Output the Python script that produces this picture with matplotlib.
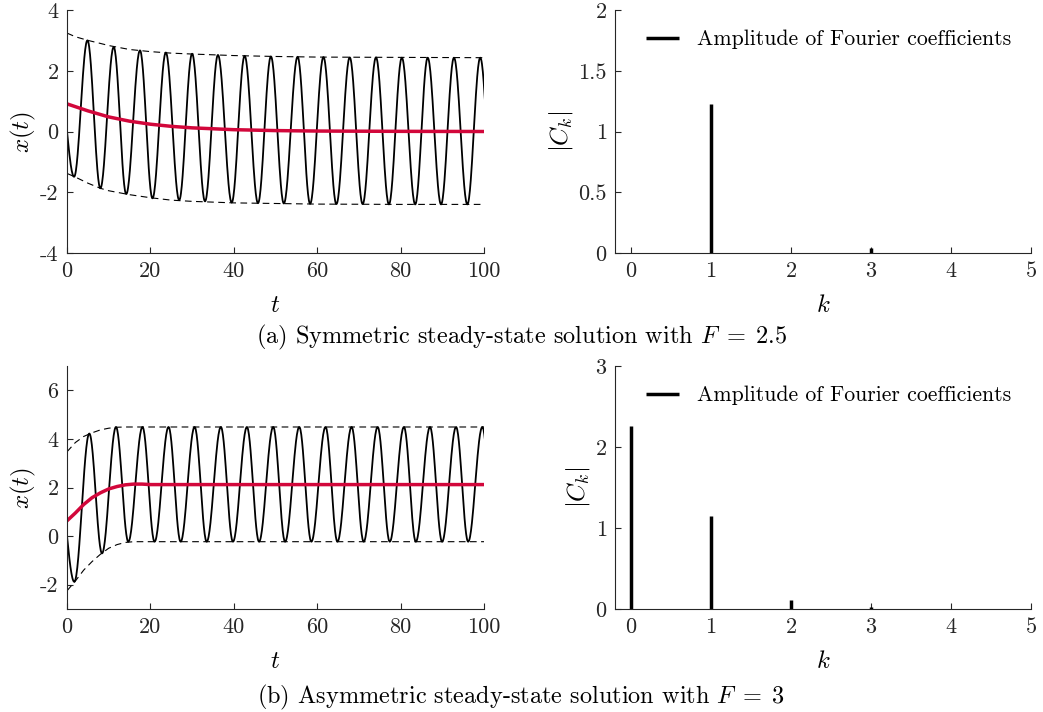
import numpy as np
import matplotlib
matplotlib.use('Agg')
import matplotlib.pyplot as plt

plt.rcParams['font.family'] = 'serif'
plt.rcParams['font.serif'] = ['cmr10']
plt.rcParams['mathtext.fontset'] = 'cm'
plt.rcParams['axes.unicode_minus'] = False

# ---- data ----
# (a) F = 2.5 : extrema of x(t) (first/last ones lie just outside 0..100)
a_ext_t = [-1.7, 1.7, 4.9, 8.0, 11.2, 14.2, 17.5, 20.5, 23.7, 26.9, 30.0, 33.1,
           36.2, 39.5, 42.6, 45.8, 48.9, 52.0, 55.3, 58.3, 61.5, 64.6, 67.8,
           70.9, 74.1, 77.2, 80.3, 83.5, 86.5, 89.7, 92.8, 96.0, 99.1, 102.2]
a_ext_x = [1.5, -1.49, 3.0, -1.87, 2.78, -2.06, 2.67, -2.2, 2.6, -2.26, 2.56,
           -2.3, 2.52, -2.34, 2.49, -2.36, 2.47, -2.37, 2.46, -2.38, 2.45, -2.39,
           2.44, -2.39, 2.44, -2.4, 2.43, -2.4, 2.43, -2.4, 2.43, -2.4, 2.43, -2.4]
a_env_t = [0, 2, 5, 8, 10, 15, 20, 25, 30, 40, 50, 60, 80, 100]
a_env_hi = [3.24, 3.12, 3.0, 2.9, 2.83, 2.7, 2.63, 2.58, 2.55, 2.5, 2.47, 2.45, 2.44, 2.43]
a_env_lo = [-1.38, -1.5, -1.7, -1.87, -1.95, -2.08, -2.18, -2.26, -2.3, -2.35, -2.37, -2.39, -2.4, -2.4]
a_mean_t = [0, 5, 10, 15, 20, 25, 30, 40, 50, 60, 80, 100]
a_mean = [0.91, 0.68, 0.48, 0.34, 0.24, 0.17, 0.12, 0.06, 0.03, 0.015, 0.005, 0.0]
a_k = [0, 1, 2, 3, 4, 5]
a_ck = [0.0, 1.23, 0.0, 0.04, 0.0, 0.0]

# (b) F = 3
b_ext_t = [-1.75, 1.75, 5.35, 8.4, 11.75, 14.7, 18.1, 21.0, 24.35, 27.25, 30.6,
           33.5, 36.9, 39.8, 43.15, 46.05, 49.45, 52.3, 55.7, 58.6, 62.0, 64.85,
           68.25, 71.15, 74.5, 77.4, 80.8, 83.65, 87.05, 89.95, 93.3, 96.2, 99.6, 102.5]
b_ext_x = [1.88, -1.88, 4.22, -0.71, 4.49, -0.23] + [4.49, -0.23] * 14
b_env_t = [0, 2, 4, 6, 8, 10, 12, 14, 16, 20, 100]
b_env_hi = [3.47, 3.85, 4.1, 4.25, 4.37, 4.44, 4.48, 4.49, 4.49, 4.49, 4.49]
b_env_lo = [-2.25, -1.85, -1.4, -1.05, -0.75, -0.5, -0.35, -0.26, -0.23, -0.23, -0.23]
b_mean_t = [0, 2, 4, 6, 8, 10, 12, 14, 16, 18, 20, 25, 100]
b_mean = [0.63, 0.95, 1.3, 1.58, 1.78, 1.94, 2.04, 2.11, 2.14, 2.14, 2.12, 2.12, 2.12]
b_k = [0, 1, 2, 3, 4, 5]
b_ck = [2.26, 1.15, 0.11, 0.03, 0.0, 0.0]

red = '#D2073B'
grey = '#262626'


def wave(te, xe, n=30):
    # smooth half-cosine segments between the read extrema
    tt, xx = [], []
    for i in range(len(te) - 1):
        s = np.linspace(0, 1, n, endpoint=False)
        tt.append(te[i] + s * (te[i + 1] - te[i]))
        xx.append(xe[i] + (xe[i + 1] - xe[i]) * (1 - np.cos(np.pi * s)) / 2)
    tt.append([te[-1]])
    xx.append([xe[-1]])
    return np.concatenate(tt), np.concatenate(xx)


def style(ax):
    for s in ['top', 'right']:
        ax.spines[s].set_visible(False)
    for s in ['left', 'bottom']:
        ax.spines[s].set_color(grey)
        ax.spines[s].set_linewidth(0.8)
    ax.tick_params(direction='in', length=4, width=0.8, color=grey,
                   labelcolor=grey, labelsize=16, pad=6)


fig = plt.figure(figsize=(10.43, 7.12), dpi=100)
W, H = 1043, 712


def axes_px(x0, y0, x1, y1):
    return fig.add_axes([x0 / W, 1 - y1 / H, (x1 - x0) / W, (y1 - y0) / H])


panels = [
    (a_ext_t, a_ext_x, a_env_t, a_env_hi, a_env_lo, a_mean_t, a_mean, a_k, a_ck,
     (-4, 4), [-4, -2, 0, 2, 4], ['-4', '-2', '0', '2', '4'],
     (0, 2), [0, 0.5, 1, 1.5, 2], ['0', '0.5', '1', '1.5', '2'], 10, 253),
    (b_ext_t, b_ext_x, b_env_t, b_env_hi, b_env_lo, b_mean_t, b_mean, b_k, b_ck,
     (-3, 7), [-2, 0, 2, 4, 6], ['-2', '0', '2', '4', '6'],
     (0, 3), [0, 1, 2, 3], ['0', '1', '2', '3'], 366, 609),
]

for (et, ex, vt, vhi, vlo, mt, mv, kk, ck, ylim, yt, ytl, cylim, cyt, cytl, y0, y1) in panels:
    ax = axes_px(67, y0, 484, y1)
    tw, xw = wave(et, ex)
    ax.plot(tw, xw, color='k', lw=1.3)
    ax.plot(vt, vhi, color='k', lw=0.8, ls=(0, (6, 4)))
    ax.plot(vt, vlo, color='k', lw=0.8, ls=(0, (6, 4)))
    ax.plot(mt, mv, color=red, lw=2.5)
    ax.set_xlim(0, 100)
    ax.set_ylim(*ylim)
    ax.set_xticks([0, 20, 40, 60, 80, 100])
    ax.set_yticks(yt)
    ax.set_yticklabels(ytl)
    ax.set_xlabel('$t$', fontsize=18, labelpad=10)
    ax.set_ylabel('$x(t)$', fontsize=18, labelpad=1.5)
    style(ax)

    bx = axes_px(615, y0, 1031, y1)
    bx.vlines(kk, 0, ck, color='k', lw=2.5, label='Amplitude of Fourier coefficients')
    bx.set_xlim(-0.2, 5)
    bx.set_ylim(*cylim)
    bx.set_xticks([0, 1, 2, 3, 4, 5])
    bx.set_yticks(cyt)
    bx.set_yticklabels(cytl)
    bx.set_xlabel('$k$', fontsize=18, labelpad=10)
    bx.set_ylabel('$|C_k|$', fontsize=18, labelpad=2.5)
    style(bx)
    bx.legend(loc='upper right', frameon=False, fontsize=15.7, handlelength=1.5,
              handletextpad=0.85, borderaxespad=0.5, bbox_to_anchor=(1.0, 1.0))

fig.text(521 / W, 1 - 337 / H, r'(a) Symmetric steady-state solution with $F\;=\;2.5$',
         ha='center', va='center', fontsize=17.5)
fig.text(521 / W, 1 - 697 / H, r'(b) Asymmetric steady-state solution with $F\;=\;3$',
         ha='center', va='center', fontsize=17.5)

fig.savefig('out.png', dpi=100)
